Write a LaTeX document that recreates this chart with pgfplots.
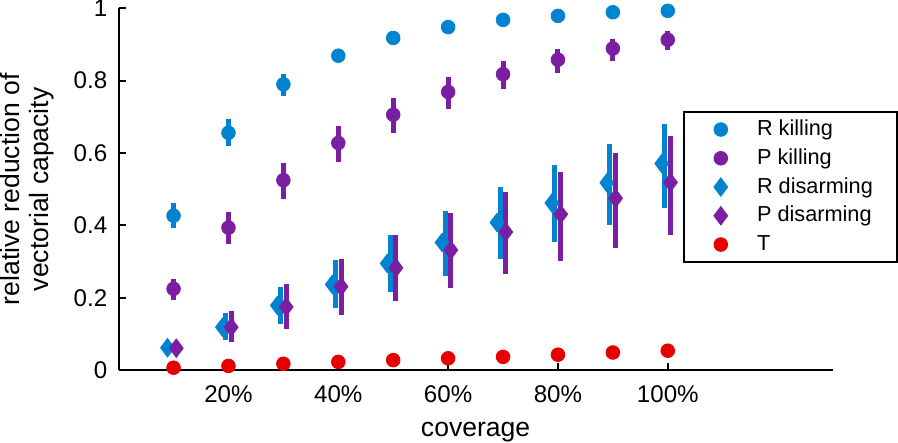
\documentclass[border=0pt]{standalone}
\usepackage{fontspec}
\setmainfont{Liberation Sans}
\usepackage{pgfplots}
\usepackage{pgfplotstable}
\pgfplotsset{compat=1.18}
\definecolor{cblue}{RGB}{0,132,209}
\definecolor{cpurple}{RGB}{123,31,162}
\definecolor{cred}{RGB}{230,0,0}

\pgfplotstableread{
x y ep em
10 0.427 0.034 0.035
20 0.656 0.038 0.037
30 0.790 0.029 0.032
40 0.869 0.013 0.013
50 0.918 0.005 0.005
60 0.948 0.004 0.004
70 0.968 0.003 0.003
80 0.979 0.002 0.002
90 0.989 0.002 0.002
100 0.993 0.001 0.001
}\rkill
\pgfplotstableread{
x y ep em
10 0.225 0.028 0.031
20 0.394 0.042 0.044
30 0.525 0.048 0.051
40 0.628 0.047 0.052
50 0.706 0.045 0.050
60 0.769 0.041 0.047
70 0.818 0.037 0.041
80 0.858 0.030 0.038
90 0.889 0.027 0.034
100 0.913 0.023 0.028
}\pkill
\pgfplotstableread{
x y ep em
10 0.062 0.005 0.005
20 0.119 0.039 0.035
30 0.179 0.052 0.051
40 0.237 0.067 0.065
50 0.295 0.078 0.079
60 0.353 0.088 0.093
70 0.408 0.097 0.102
80 0.462 0.104 0.109
90 0.518 0.108 0.117
100 0.571 0.110 0.123
}\rdis
\pgfplotstableread{
x y ep em
10 0.061 0.005 0.005
20 0.119 0.044 0.041
30 0.175 0.063 0.060
40 0.231 0.077 0.077
50 0.283 0.090 0.092
60 0.332 0.103 0.104
70 0.382 0.111 0.117
80 0.431 0.118 0.129
90 0.475 0.124 0.136
100 0.519 0.127 0.144
}\pdis
\pgfplotstableread{
x y
10 0.007
20 0.012
30 0.018
40 0.023
50 0.028
60 0.033
70 0.037
80 0.043
90 0.049
100 0.054
}\tdata

\begin{document}
\fontsize{12}{14.4}\selectfont
\begin{tikzpicture}
\begin{axis}[
  scale only axis,
  width=355pt, height=180pt,
  xmin=0, xmax=130, ymin=0, ymax=1,
  axis x line*=bottom, axis y line*=left,
  axis line style={line width=1pt},
  tick style={line width=1pt, black},
  major tick length=3.5pt,
  tick align=inside,
  xtick={20,40,60,80,100},
  xticklabels={20\%,40\%,60\%,80\%,100\%},
  ytick={0,0.2,0.4,0.6,0.8,1},
  yticklabels={0,0.2,0.4,0.6,0.8,1},
  ticklabel style={font=\fontsize{12}{14.4}\selectfont},
  xticklabel style={yshift=-3.5pt},
  yticklabel style={xshift=-1.5pt, inner ysep=0pt},
  xlabel={coverage},
  ylabel={relative reduction of\\vectorial capacity},
  ylabel style={align=center, font=\fontsize{13.2}{14.5}\selectfont,
    at={(axis description cs:0,0.5)}, anchor=south, inner sep=0pt, yshift=32pt},
  xlabel style={font=\fontsize{13.2}{15}\selectfont,
    at={(axis description cs:0.5,0)}, anchor=base, inner sep=0pt, yshift=-33pt},
  clip=false,
  error bars/error bar style={line width=2.5pt},
  error bars/error mark=none,
  legend image code/.code={%
    \path[draw=none, fill=none] (0pt,-7.15pt) rectangle (24.5pt,7.15pt);
    \draw[line width=0.4pt, mark repeat=2,mark phase=2,#1] plot coordinates {(-3.5pt,0pt) (6.5pt,0pt) (16.5pt,0pt)};},
  legend style={at={(0.79,0.717)}, anchor=north west, draw=black, line width=1pt,
    font=\fontsize{10.8}{13}\selectfont, row sep=0pt, column sep=0pt,
    inner xsep=12pt, inner ysep=1.7pt,
    nodes={inner sep=0pt},
    cells={anchor=west}},
  legend cell align=left,
]
\addplot[only marks, mark=*, mark size=3.4pt, color=cblue,
  error bars/.cd, y dir=both, y explicit]
  table[x=x, y=y, y error plus=ep, y error minus=em]{\rkill};
\addlegendentry{R killing}
\addplot[only marks, mark=*, mark size=3.4pt, color=cpurple,
  error bars/.cd, y dir=both, y explicit]
  table[x=x, y=y, y error plus=ep, y error minus=em]{\pkill};
\addlegendentry{P killing}
\addplot[only marks, mark=diamond*, mark size=4.6pt, color=cblue]
  table[x expr=\thisrow{x}-1.1, y=y]{\rdis};
\addlegendentry{R disarming}
\addplot[forget plot, draw=none, mark=none, color=cblue,
  error bars/.cd, y dir=both, y explicit]
  table[x expr=\thisrow{x}-0.55, y=y, y error plus=ep, y error minus=em]{\rdis};
\addplot[only marks, mark=diamond*, mark size=4.6pt, color=cpurple,
  error bars/.cd, y dir=both, y explicit]
  table[x expr=\thisrow{x}+0.5, y=y, y error plus=ep, y error minus=em]{\pdis};
\addlegendentry{P disarming}
\addplot[only marks, mark=*, mark size=3.4pt, color=cred]
  table[x=x, y=y]{\tdata};
\addlegendentry{T}
\end{axis}
\end{tikzpicture}
\end{document}
